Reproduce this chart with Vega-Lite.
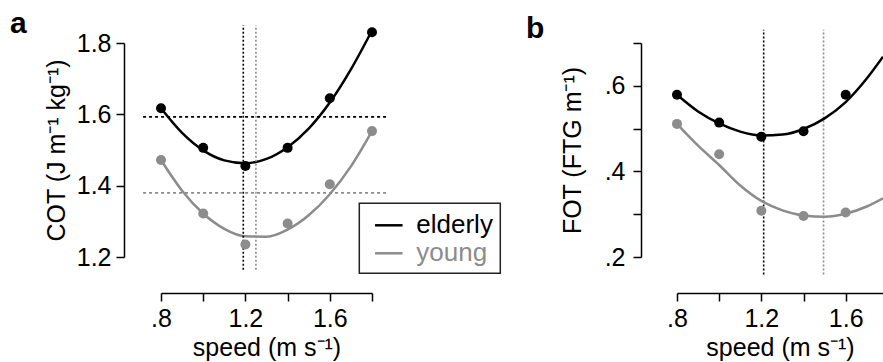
{
  "$schema": "https://vega.github.io/schema/vega-lite/v6.json",
  "background": "white",
  "padding": {"left": 10, "top": 9, "right": 0, "bottom": 2},
  "config": {
    "font": "Liberation Sans",
    "view": {"stroke": null},
    "axis": {"domainColor": "#000", "domainWidth": 1.5, "tickColor": "#000", "tickWidth": 1.5, "tickSize": 8, "labelFontSize": 25, "labelColor": "#000", "labelFont": "Liberation Sans", "titleFontSize": 25, "titleFontWeight": "normal", "titleColor": "#000", "titleFont": "Liberation Sans", "grid": false, "labelFlush": false, "labelOverlap": false},
    "legend": {"strokeWidth": 1.5},
    "title": {"font": "Liberation Sans"}
  },
  "datasets": {
    "cotPts": [
      {"group": "elderly", "speed": 0.8, "value": 1.617},
      {"group": "elderly", "speed": 1.0, "value": 1.506},
      {"group": "elderly", "speed": 1.2, "value": 1.455},
      {"group": "elderly", "speed": 1.4, "value": 1.506},
      {"group": "elderly", "speed": 1.6, "value": 1.645},
      {"group": "elderly", "speed": 1.8, "value": 1.83},
      {"group": "young", "speed": 0.8, "value": 1.472},
      {"group": "young", "speed": 1.0, "value": 1.322},
      {"group": "young", "speed": 1.2, "value": 1.235},
      {"group": "young", "speed": 1.4, "value": 1.294},
      {"group": "young", "speed": 1.6, "value": 1.404},
      {"group": "young", "speed": 1.8, "value": 1.553}
    ],
    "cotFit": [
      {"group": "elderly", "speed": 0.8, "value": 1.617},
      {"group": "elderly", "speed": 0.9, "value": 1.548},
      {"group": "elderly", "speed": 1.0, "value": 1.499},
      {"group": "elderly", "speed": 1.1, "value": 1.471},
      {"group": "elderly", "speed": 1.2, "value": 1.463},
      {"group": "elderly", "speed": 1.3, "value": 1.475},
      {"group": "elderly", "speed": 1.4, "value": 1.508},
      {"group": "elderly", "speed": 1.5, "value": 1.56},
      {"group": "elderly", "speed": 1.6, "value": 1.633},
      {"group": "elderly", "speed": 1.7, "value": 1.726},
      {"group": "elderly", "speed": 1.8, "value": 1.835},
      {"group": "young", "speed": 0.8, "value": 1.472},
      {"group": "young", "speed": 0.9, "value": 1.386},
      {"group": "young", "speed": 1.0, "value": 1.322},
      {"group": "young", "speed": 1.1, "value": 1.279},
      {"group": "young", "speed": 1.2, "value": 1.258},
      {"group": "young", "speed": 1.3, "value": 1.257},
      {"group": "young", "speed": 1.4, "value": 1.277},
      {"group": "young", "speed": 1.5, "value": 1.317},
      {"group": "young", "speed": 1.6, "value": 1.376},
      {"group": "young", "speed": 1.7, "value": 1.454},
      {"group": "young", "speed": 1.8, "value": 1.553}
    ],
    "cotH": [
      {"group": "elderly", "speed": 0.715, "speed2": 1.876, "value": 1.593},
      {"group": "young", "speed": 0.715, "speed2": 1.876, "value": 1.38}
    ],
    "cotV": [
      {"group": "elderly", "speed": 1.19, "value": 1.164, "value2": 1.85},
      {"group": "young", "speed": 1.25, "value": 1.164, "value2": 1.85}
    ],
    "fotPts": [
      {"group": "elderly", "speed": 0.8, "value": 0.579},
      {"group": "elderly", "speed": 1.0, "value": 0.514},
      {"group": "elderly", "speed": 1.2, "value": 0.481},
      {"group": "elderly", "speed": 1.4, "value": 0.494},
      {"group": "elderly", "speed": 1.6, "value": 0.579},
      {"group": "young", "speed": 0.8, "value": 0.511},
      {"group": "young", "speed": 1.0, "value": 0.44},
      {"group": "young", "speed": 1.2, "value": 0.308},
      {"group": "young", "speed": 1.4, "value": 0.296},
      {"group": "young", "speed": 1.6, "value": 0.304}
    ],
    "fotFit": [
      {"group": "elderly", "speed": 0.8, "value": 0.579},
      {"group": "elderly", "speed": 0.9, "value": 0.54},
      {"group": "elderly", "speed": 1.0, "value": 0.512},
      {"group": "elderly", "speed": 1.1, "value": 0.493},
      {"group": "elderly", "speed": 1.2, "value": 0.484},
      {"group": "elderly", "speed": 1.3, "value": 0.486},
      {"group": "elderly", "speed": 1.4, "value": 0.499},
      {"group": "elderly", "speed": 1.5, "value": 0.524},
      {"group": "elderly", "speed": 1.6, "value": 0.562},
      {"group": "elderly", "speed": 1.7, "value": 0.617},
      {"group": "elderly", "speed": 1.777, "value": 0.668},
      {"group": "young", "speed": 0.8, "value": 0.511},
      {"group": "young", "speed": 0.9, "value": 0.46},
      {"group": "young", "speed": 1.0, "value": 0.415},
      {"group": "young", "speed": 1.1, "value": 0.367},
      {"group": "young", "speed": 1.2, "value": 0.331},
      {"group": "young", "speed": 1.3, "value": 0.309},
      {"group": "young", "speed": 1.4, "value": 0.297},
      {"group": "young", "speed": 1.5, "value": 0.294},
      {"group": "young", "speed": 1.6, "value": 0.301},
      {"group": "young", "speed": 1.7, "value": 0.318},
      {"group": "young", "speed": 1.777, "value": 0.337}
    ],
    "fotV": [
      {"group": "elderly", "speed": 1.211, "value": 0.159, "value2": 0.731},
      {"group": "young", "speed": 1.495, "value": 0.159, "value2": 0.731}
    ]
  },
  "spacing": 305,
  "bounds": "flush",
  "resolve": {"scale": {"color": "independent"}, "legend": {"color": "independent"}},
  "hconcat": [
    {
      "width": 211,
      "height": 214,
      "title": {"text": "a", "anchor": "start", "frame": "group", "dx": -151, "offset": -39, "baseline": "alphabetic", "fontSize": 30, "fontWeight": "bold", "color": "#000"},
      "encoding": {
        "x": {"field": "speed", "type": "quantitative", "scale": {"domain": [0.8, 1.8], "nice": false, "zero": false},
          "axis": {"values": [0.8, 1.0, 1.2, 1.4, 1.6, 1.8], "labelExpr": "datum.value == 0.8 ? '.8' : datum.value == 1.2 ? '1.2' : datum.value == 1.6 ? '1.6' : ''", "offset": 36, "labelPadding": 5.5, "title": "speed (m s⁻¹)", "titlePadding": 4}},
        "y": {"field": "value", "type": "quantitative", "scale": {"domain": [1.2, 1.8], "nice": false, "zero": false},
          "axis": {"values": [1.2, 1.4, 1.6, 1.8], "format": ".1f", "offset": 37, "labelPadding": 5, "title": "COT (J m⁻¹ kg⁻¹)", "titlePadding": 7}}
      },
      "layer": [
        {
          "data": {"name": "cotFit"},
          "mark": {"type": "line", "interpolate": "monotone", "strokeWidth": 2.5},
          "encoding": {"color": {"field": "group", "type": "nominal", "scale": {"domain": ["elderly", "young"], "range": ["#000000", "#8c8c8c"]},
            "legend": {"orient": "none", "legendX": 198.3, "legendY": 160.3, "title": null, "symbolType": "stroke", "symbolSize": 756, "symbolStrokeWidth": 2.5, "labelFontSize": 26, "labelFont": "Liberation Sans", "labelOffset": 12.5, "padding": 7, "rowPadding": 0, "symbolOffset": 7.5, "strokeColor": "#222",
              "encoding": {"labels": {"fill": {"condition": {"test": "datum.value == 'young'", "value": "#8c8c8c"}, "value": "#000000"}}}}}}
        },
        {
          "data": {"name": "cotH"},
          "mark": {"type": "rule", "strokeDash": [3, 3], "strokeWidth": 1.8},
          "encoding": {"x2": {"field": "speed2"}, "color": {"field": "group", "type": "nominal", "scale": {"domain": ["elderly", "young"], "range": ["#000000", "#8c8c8c"]}, "legend": null}}
        },
        {
          "data": {"name": "cotV"},
          "mark": {"type": "rule", "strokeDash": [2, 2], "strokeWidth": 1.6},
          "encoding": {"y2": {"field": "value2"}, "color": {"field": "group", "type": "nominal", "scale": {"domain": ["elderly", "young"], "range": ["#000000", "#8c8c8c"]}, "legend": null}}
        },
        {
          "data": {"name": "cotPts"},
          "mark": {"type": "circle", "size": 100, "opacity": 1},
          "encoding": {"color": {"field": "group", "type": "nominal", "scale": {"domain": ["elderly", "young"], "range": ["#000000", "#8c8c8c"]}, "legend": null}}
        }
      ]
    },
    {
      "width": 206,
      "height": 214,
      "title": {"text": "b", "anchor": "start", "frame": "group", "dx": -151, "offset": -39, "baseline": "alphabetic", "fontSize": 30, "fontWeight": "bold", "color": "#000"},
      "encoding": {
        "x": {"field": "speed", "type": "quantitative", "scale": {"domain": [0.8, 1.777], "nice": false, "zero": false},
          "axis": {"values": [0.8, 1.0, 1.2, 1.4, 1.6], "labelExpr": "datum.value == 0.8 ? '.8' : datum.value == 1.2 ? '1.2' : datum.value == 1.6 ? '1.6' : ''", "offset": 36, "labelPadding": 5.5, "title": "speed (m s⁻¹)", "titlePadding": 4}},
        "y": {"field": "value", "type": "quantitative", "scale": {"domain": [0.2, 0.7], "nice": false, "zero": false},
          "axis": {"values": [0.2, 0.3, 0.4, 0.5, 0.6, 0.7], "labelExpr": "datum.value == 0.2 ? '.2' : datum.value == 0.4 ? '.4' : datum.value == 0.6 ? '.6' : ''", "offset": 36, "labelPadding": 8, "title": "FOT (FTG m⁻¹)", "titlePadding": 19}}
      },
      "layer": [
        {
          "data": {"name": "fotV"},
          "mark": {"type": "rule", "strokeDash": [2, 2], "strokeWidth": 1.6},
          "encoding": {"y2": {"field": "value2"}, "color": {"field": "group", "type": "nominal", "scale": {"domain": ["elderly", "young"], "range": ["#000000", "#8c8c8c"]}, "legend": null}}
        },
        {
          "data": {"name": "fotFit"},
          "mark": {"type": "line", "interpolate": "monotone", "strokeWidth": 2.5},
          "encoding": {"color": {"field": "group", "type": "nominal", "scale": {"domain": ["elderly", "young"], "range": ["#000000", "#8c8c8c"]}, "legend": null}}
        },
        {
          "data": {"name": "fotPts"},
          "mark": {"type": "circle", "size": 100, "opacity": 1},
          "encoding": {"color": {"field": "group", "type": "nominal", "scale": {"domain": ["elderly", "young"], "range": ["#000000", "#8c8c8c"]}, "legend": null}}
        }
      ]
    }
  ]
}
